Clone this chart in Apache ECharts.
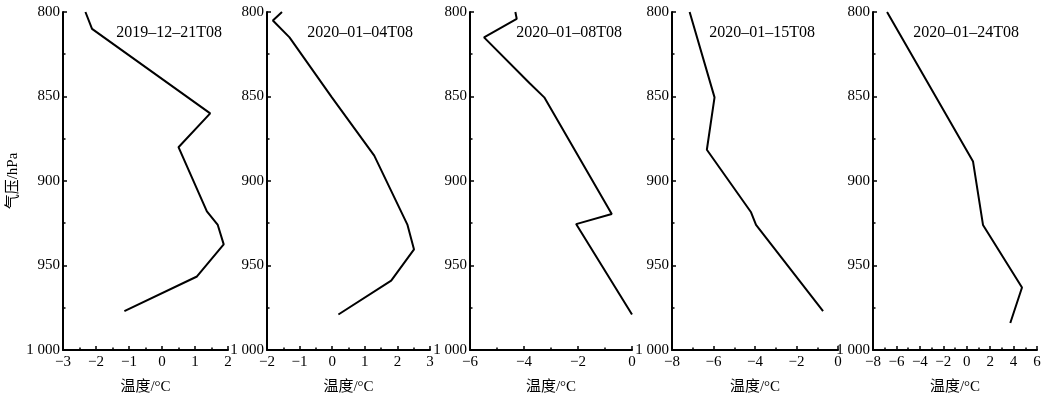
<!DOCTYPE html>
<html>
<head>
<meta charset="utf-8">
<script src="https://cdn.jsdelivr.net/npm/echarts@6/dist/echarts.min.js"></script>
<style>
html,body{margin:0;padding:0;background:#fff;}
#chart{width:1045px;height:400px;}
</style>
</head>
<body>
<div id="chart"></div>
<script>
// Panel titles (observation times)
const titles = ['2019–12–21T08', '2020–01–04T08', '2020–01–08T08', '2020–01–15T08', '2020–01–24T08'];

// Pressure levels (hPa) and temperatures (°C) per panel
const p1P = [800, 810, 860, 880, 918, 926, 937.5, 956.5, 977];
const p1T = [-2.32, -2.12, 1.46, 0.5, 1.36, 1.69, 1.87, 1.06, -1.14];

const p2P = [800, 805, 815, 850.5, 885, 926, 940.5, 959, 979];
const p2T = [-1.54, -1.82, -1.31, -0.01, 1.29, 2.31, 2.51, 1.81, 0.19];

const p3P = [800, 804, 815, 842, 850.5, 919.5, 925.5, 979];
const p3T = [-4.32, -4.27, -5.48, -3.8, -3.25, -0.75, -2.07, 0];

const p4P = [800, 850.5, 881.5, 918.5, 926, 977];
const p4T = [-7.15, -5.95, -6.32, -4.19, -3.95, -0.72];

const p5P = [800, 888.5, 926, 963, 984];
const p5T = [-6.8, 0.54, 1.39, 4.72, 3.72];

// x-axis ranges: [min, max, interval]
const xRanges = [[-3, 2, 1], [-2, 3, 1], [-6, 0, 2], [-8, 0, 2], [-8, 6, 2]];
const yRange = [800, 1000, 50];

const xName = '温度/°C';
const yName = '气压/hPa';

const panelsP = [p1P, p2P, p3P, p4P, p5P];
const panelsT = [p1T, p2T, p3T, p4T, p5T];

// layout
const gridLeft = [63, 267, 470, 672, 873];
const gridWidth = [165, 163, 162, 166, 164];
const titleRightEdge = [222, 413, 622, 815, 1019];

const FONT = "'Liberation Serif', 'Noto Sans CJK SC', serif";
const axisCommon = {
  axisLine: { show: true, onZero: false, lineStyle: { color: '#000', width: 2 } },
  axisTick: { show: true, inside: true, length: 4, lineStyle: { color: '#000', width: 1.5 } },
  minorTick: { show: true, splitNumber: 2, length: 2.5, lineStyle: { color: '#000', width: 1.5 } },
  splitLine: { show: false },
  minorSplitLine: { show: false }
};
const fmt = v => String(v).replace('-', '\u2212');

const grids = [], xAxes = [], yAxes = [], series = [], titleArr = [];
for (let i = 0; i < 5; i++) {
  grids.push({ left: gridLeft[i], width: gridWidth[i], top: 12, height: 342 });
  xAxes.push(Object.assign({}, axisCommon, {
    type: 'value', gridIndex: i,
    min: xRanges[i][0], max: xRanges[i][1], interval: xRanges[i][2],
    name: xName, nameLocation: 'middle', nameGap: 30,
    nameTextStyle: { fontFamily: FONT, fontSize: 15, color: '#000' },
    axisLabel: { fontFamily: FONT, fontSize: 15, color: '#000', margin: 5, formatter: fmt }
  }));
  yAxes.push(Object.assign({}, axisCommon, {
    type: 'value', gridIndex: i, inverse: true,
    min: yRange[0], max: yRange[1], interval: yRange[2],
    name: i === 0 ? yName : '', nameLocation: 'middle', nameGap: 42,
    nameTextStyle: { fontFamily: FONT, fontSize: 15, color: '#000' },
    axisLabel: { fontFamily: FONT, fontSize: 15, color: '#000', margin: 3,
      formatter: v => v === 1000 ? '1 000' : String(v) }
  }));
  series.push({
    type: 'line', xAxisIndex: i, yAxisIndex: i,
    data: panelsT[i].map((t, k) => [t, panelsP[i][k]]),
    symbol: 'none', smooth: false,
    lineStyle: { color: '#000', width: 2 }
  });
  titleArr.push({
    text: titles[i], right: 1045 - titleRightEdge[i], top: 25, padding: 0,
    textStyle: { fontFamily: FONT, fontSize: 16, fontWeight: 'normal', color: '#000' }
  });
}

const chart = echarts.init(document.getElementById('chart'), null, { renderer: 'canvas' });
chart.setOption({
  animation: false,
  backgroundColor: '#fff',
  title: titleArr,
  grid: grids,
  xAxis: xAxes,
  yAxis: yAxes,
  series: series
});
</script>
</body>
</html>
